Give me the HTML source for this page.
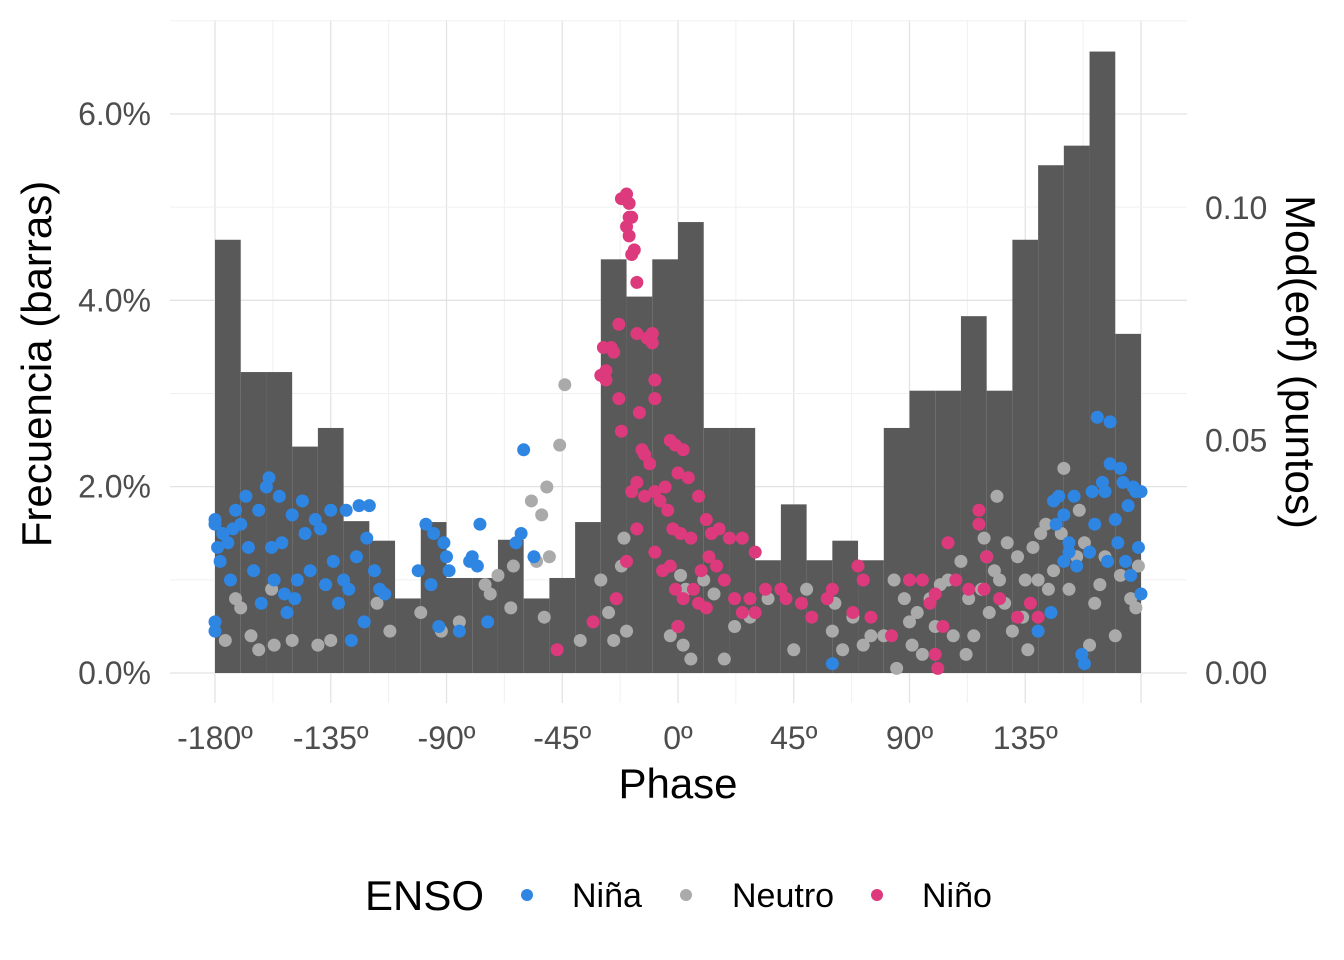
<!DOCTYPE html>
<html><head><meta charset="utf-8"><style>
body{margin:0;background:#fff;width:1344px;height:960px;overflow:hidden}
svg{display:block;font-family:"Liberation Sans",sans-serif}
</style></head><body>
<svg id="chart" width="1344" height="960">
<g id="grid"></g>
<g id="bars"></g>
<g id="points"></g>
<g id="axes"></g>
<text x="40" y="364" font-size="42" text-anchor="middle" dominant-baseline="middle" transform="rotate(-90 40 364)">Frecuencia (barras)</text>
<text x="1297" y="362" font-size="42" text-anchor="middle" dominant-baseline="middle" transform="rotate(90 1297 362)">Mod(eof) (puntos)</text>
<text x="678" y="798" font-size="42" text-anchor="middle">Phase</text>
<g>
<text x="365" y="910" font-size="42">ENSO</text>
<g><circle cx="527" cy="895" r="6" fill="#2e86e2"/><text x="572" y="907" font-size="34">Niña</text></g>
<g><circle cx="686" cy="895" r="6" fill="#aaaaaa"/><text x="732" y="907" font-size="34">Neutro</text></g>
<g><circle cx="877" cy="895" r="6" fill="#dd3a7d"/><text x="922" y="907" font-size="34">Niño</text></g>
</g>
</svg>
<script>
const binStarts=[-180,-170,-160,-150,-140,-130,-120,-110,-100,-90,-80,-70,-60,-50,-40,-30,-20,-10,0,10,20,30,40,50,60,70,80,90,100,110,120,130,140,150,160,170];
const binFreq=[4.65,3.23,3.23,2.43,2.63,1.63,1.42,0.8,1.62,1.02,1.02,1.43,0.8,1.02,1.62,4.44,4.04,4.44,4.84,2.63,2.63,1.21,1.81,1.21,1.42,1.21,2.63,3.03,3.03,3.83,3.03,4.65,5.45,5.66,6.67,3.64];
const xTicks=[-180,-135,-90,-45,0,45,90,135];
const xTickLabels=["-180º","-135º","-90º","-45º","0º","45º","90º","135º"];
const yLeftTicks=[0,2,4,6];
const yLeftLabels=["0.0%","2.0%","4.0%","6.0%"];
const yRightTicks=[0,0.05,0.10];
const yRightLabels=["0.00","0.05","0.10"];
const ninaPts=[[-180,0.033],[-180,0.032],[-180,0.011],[-180,0.009],[-179,0.027],[-178,0.024],[-177,0.030],[-175,0.028],[-174,0.020],[-173,0.031],[-172,0.035],[-170,0.032],[-168,0.038],[-167,0.027],[-165,0.022],[-163,0.035],[-162,0.015],[-160,0.040],[-159,0.042],[-158,0.027],[-157,0.020],[-155,0.038],[-154,0.028],[-153,0.017],[-152,0.013],[-150,0.034],[-149,0.016],[-148,0.020],[-146,0.037],[-145,0.030],[-143,0.022],[-141,0.033],[-139,0.031],[-137,0.019],[-135,0.035],[-134,0.024],[-132,0.015],[-130,0.020],[-129,0.035],[-128,0.018],[-127,0.007],[-125,0.025],[-124,0.036],[-122,0.011],[-121,0.029],[-120,0.036],[-118,0.022],[-116,0.018],[-114,0.017],[-101,0.022],[-98,0.032],[-96,0.019],[-95,0.030],[-93,0.010],[-91,0.028],[-90,0.025],[-89,0.022],[-85,0.009],[-81,0.024],[-80,0.025],[-78,0.023],[-77,0.032],[-74,0.011],[-63,0.028],[-61,0.030],[-60,0.048],[-56,0.025],[150,0.034],[148,0.038],[146,0.037],[147,0.032],[150,0.024],[152,0.026],[154,0.038],[155,0.023],[157,0.004],[158,0.002],[160,0.026],[161,0.039],[162,0.032],[163,0.055],[165,0.041],[166,0.039],[167,0.024],[168,0.045],[168,0.054],[170,0.033],[171,0.028],[172,0.044],[173,0.041],[174,0.024],[175,0.036],[176,0.021],[177,0.040],[178,0.039],[179,0.027],[180,0.039],[180,0.017],[145,0.013],[140,0.009],[60,0.002],[152,0.028]];
const neutroPts=[[-44,0.062],[-46,0.049],[-51,0.040],[-53,0.034],[-50,0.025],[-57,0.037],[-55,0.024],[-52,0.012],[-65,0.014],[-64,0.023],[-70,0.021],[-73,0.017],[-75,0.019],[-85,0.011],[-92,0.009],[-100,0.013],[-112,0.009],[-117,0.015],[-135,0.007],[-140,0.006],[-150,0.007],[-157,0.006],[-163,0.005],[-166,0.008],[-170,0.014],[-172,0.016],[-176,0.007],[-158,0.018],[-30,0.020],[-25,0.007],[-22,0.023],[-21,0.029],[-20,0.009],[-38,0.007],[-27,0.013],[5,0.003],[2,0.006],[-3,0.008],[0,0.010],[1,0.021],[3,0.018],[10,0.020],[14,0.017],[18,0.003],[22,0.010],[28,0.012],[35,0.016],[45,0.005],[50,0.018],[60,0.009],[61,0.015],[64,0.005],[68,0.012],[72,0.006],[75,0.008],[80,0.008],[84,0.020],[85,0.001],[88,0.016],[90,0.011],[91,0.006],[93,0.013],[95,0.004],[98,0.016],[100,0.010],[102,0.019],[105,0.020],[107,0.008],[110,0.024],[112,0.004],[113,0.016],[115,0.008],[118,0.018],[119,0.029],[120,0.025],[121,0.013],[123,0.022],[124,0.038],[125,0.020],[127,0.015],[128,0.028],[130,0.009],[132,0.025],[134,0.012],[135,0.020],[136,0.005],[138,0.027],[140,0.020],[141,0.030],[143,0.032],[144,0.018],[146,0.022],[149,0.030],[150,0.044],[152,0.018],[155,0.025],[156,0.035],[158,0.028],[160,0.006],[162,0.015],[164,0.019],[166,0.025],[170,0.008],[172,0.021],[176,0.016],[178,0.014],[179,0.023]];
const ninoPts=[[-22,0.102],[-20,0.103],[-19,0.101],[-20,0.096],[-19,0.098],[-18,0.098],[-19,0.094],[-18,0.090],[-17,0.091],[-16,0.084],[-23,0.075],[-26,0.070],[-25,0.069],[-28,0.065],[-30,0.064],[-29,0.070],[-28,0.063],[-23,0.059],[-22,0.052],[-16,0.073],[-12,0.072],[-10,0.073],[-9,0.063],[-10,0.071],[-9,0.059],[-15,0.056],[-14,0.048],[-13,0.047],[-11,0.045],[-16,0.041],[-18,0.039],[-13,0.038],[-9,0.039],[-7,0.037],[-5,0.040],[-3,0.050],[-1,0.049],[2,0.048],[0,0.043],[4,0.042],[8,0.038],[-4,0.035],[-2,0.031],[1,0.030],[5,0.029],[11,0.033],[13,0.030],[16,0.031],[20,0.029],[25,0.029],[30,0.026],[-9,0.026],[-6,0.022],[-3,0.023],[-1,0.018],[2,0.016],[6,0.018],[9,0.022],[12,0.025],[15,0.023],[18,0.020],[-16,0.031],[-20,0.024],[-24,0.016],[-33,0.011],[-47,0.005],[0,0.010],[8,0.015],[11,0.014],[22,0.016],[25,0.013],[28,0.016],[30,0.013],[34,0.018],[40,0.018],[42,0.016],[48,0.015],[52,0.012],[58,0.016],[60,0.018],[68,0.013],[70,0.023],[72,0.020],[75,0.012],[83,0.008],[90,0.020],[95,0.020],[98,0.015],[100,0.004],[101,0.001],[103,0.010],[105,0.028],[108,0.020],[113,0.018],[117,0.032],[119,0.018],[120,0.025],[117,0.035],[125,0.016],[132,0.012],[137,0.015],[140,0.012],[100,0.017]];

const NS="http://www.w3.org/2000/svg";
const X=d=>215+(d+180)*463/180;
const YL=p=>673-p*93.17;
const YR=v=>673-v*4650;
function mk(tag,attrs,parent){const e=document.createElementNS(NS,tag);for(const k in attrs)e.setAttribute(k,attrs[k]);parent.appendChild(e);return e;}
const grid=document.getElementById('grid'),bars=document.getElementById('bars'),pts=document.getElementById('points'),axes=document.getElementById('axes');
for(let d=-180;d<=180;d+=22.5){const l=mk('line',{x1:X(d),x2:X(d),y1:20,y2:703,stroke:(d%45===0)?'#e3e3e3':'#f0f0f0','stroke-width':(d%45===0)?1.3:1},grid);

}
for(let p=0;p<=7;p+=1){const y=YL(p);if(y<20)continue;const l=mk('line',{x1:170,x2:1187,y1:y,y2:y,stroke:p%2===0?'#e3e3e3':'#f0f0f0','stroke-width':p%2===0?1.3:1},grid);

}
binStarts.forEach((b,i)=>{const r=mk('rect',{x:X(b),y:YL(binFreq[i]),width:X(b+10)-X(b),height:673-YL(binFreq[i]),fill:'#595959'},bars);

});
function drawPts(arr,col,name){arr.forEach(p=>{const c=mk('circle',{cx:X(p[0]),cy:YR(p[1]),r:6.5,fill:col},pts);

});}
drawPts(neutroPts,'#aaaaaa','neutro-point');
drawPts(ninaPts,'#2e86e2','nina-point');
drawPts(ninoPts,'#dd3a7d','nino-point');
xTicks.forEach((t,i)=>{const e=mk('text',{x:X(t),y:749,'font-size':32,fill:'#4d4d4d','text-anchor':'middle'},axes);e.textContent=xTickLabels[i];

});
yLeftTicks.forEach((t,i)=>{const e=mk('text',{x:151,y:YL(t)+11,'font-size':32,fill:'#4d4d4d','text-anchor':'end'},axes);e.textContent=yLeftLabels[i];

});
yRightTicks.forEach((t,i)=>{const e=mk('text',{x:1205,y:YR(t)+11,'font-size':32,fill:'#4d4d4d'},axes);e.textContent=yRightLabels[i];

});
</script>
</body></html>
